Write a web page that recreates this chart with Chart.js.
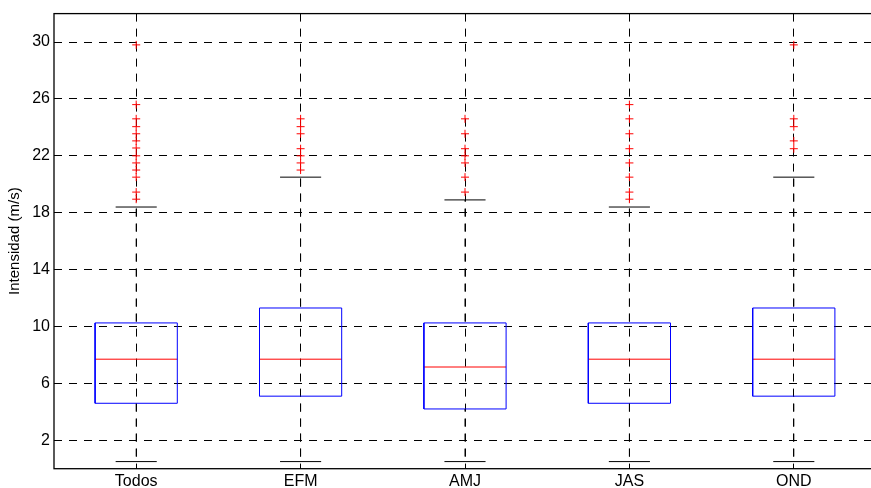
<!DOCTYPE html>
<html>
<head>
<meta charset="utf-8">
<script src="https://cdn.jsdelivr.net/npm/chart.js@4.4.1/dist/chart.umd.min.js"></script>
<style>
html,body{margin:0;padding:0;background:#fff;overflow:hidden;}
#wrap{width:881px;height:488px;position:relative;}
</style>
</head>
<body>
<div id="wrap"><canvas id="c"></canvas></div>
<script>
const categories = ['Todos', 'EFM', 'AMJ', 'JAS', 'OND'];
const q1 = [4.6, 5.1, 4.2, 4.6, 5.1];
const median = [7.7, 7.7, 7.15, 7.7, 7.7];
const q3 = [10.25, 11.3, 10.25, 10.25, 11.3];
const whiskerLow = [0.5, 0.5, 0.5, 0.5, 0.5];
const whiskerHigh = [18.4, 20.5, 18.9, 18.4, 20.5];
const outTodos = [29.8, 25.6, 24.6, 24.05, 23.55, 23.05, 22.55, 22.0, 21.5, 21.0, 20.5, 19.45, 18.95];
const outEFM = [24.6, 24.05, 23.55, 22.5, 22.0, 21.5, 21.0];
const outAMJ = [24.6, 23.55, 22.5, 22.0, 21.5, 20.5, 19.45];
const outJAS = [25.6, 24.6, 23.55, 22.5, 21.5, 20.5, 19.45, 18.95];
const outOND = [29.8, 24.6, 24.05, 23.05, 22.5];
const yTicks = [2, 6, 10, 14, 18, 22, 26, 30];

const outliers = [outTodos, outEFM, outAMJ, outJAS, outOND];
const BOX_HALF = 0.25, CAP_HALF = 0.125;
const DASH = [8, 7];
const FONT = "'Liberation Sans', Arial, Helvetica, sans-serif";

const boxPts = [], medPts = [], capPts = [], outPts = [];
const whiskerSegs = []; // each: [startValue, endValue, position]
categories.forEach((c, k) => {
  const i = k + 1;
  boxPts.push({x: i - BOX_HALF, y: q1[k]}, {x: i + BOX_HALF, y: q1[k]}, {x: i + BOX_HALF, y: q3[k]},
              {x: i - BOX_HALF, y: q3[k]}, {x: i - BOX_HALF, y: q1[k]}, {x: i, y: null});
  medPts.push({x: i - BOX_HALF, y: median[k]}, {x: i + BOX_HALF, y: median[k]}, {x: i, y: null});
  whiskerSegs.push([whiskerHigh[k], q3[k], i], [q1[k], whiskerLow[k], i]);
  capPts.push({x: i - CAP_HALF, y: whiskerHigh[k]}, {x: i + CAP_HALF, y: whiskerHigh[k]}, {x: i, y: null},
              {x: i - CAP_HALF, y: whiskerLow[k]}, {x: i + CAP_HALF, y: whiskerLow[k]}, {x: i, y: null});
  outliers[k].forEach(v => outPts.push({x: i, y: v}));
});

const lineDs = (data, color, extra) => Object.assign({
  type: 'scatter', data, showLine: true, spanGaps: false, borderColor: color,
  borderWidth: 1, pointRadius: 0, fill: false, tension: 0
}, extra || {});

// whisker dashes kept in phase with the vertical grid dashes (which start at the chart-area top)
const whiskerDatasets = whiskerSegs.map(([a, b, i]) => lineDs(
  [{x: i, y: a}, {x: i, y: b}], '#000', {
    borderDash: DASH,
    borderDashOffset: ctx => {
      const ch = ctx.chart;
      if (!ch.chartArea || !ch.scales.y) return 0;
      const period = DASH[0] + DASH[1];
      const d = ch.scales.y.getPixelForValue(a) - ch.chartArea.top;
      return ((d % period) + period) % period;
    }
  }));

const framePlugin = {
  id: 'frame',
  afterDraw(chart) {
    const a = chart.chartArea, ctx = chart.ctx;
    ctx.save();
    ctx.strokeStyle = '#000';
    ctx.lineWidth = 1.3;
    ctx.strokeRect(a.left, a.top, a.right - a.left, a.bottom - a.top);
    ctx.restore();
  }
};

new Chart(document.getElementById('c'), {
  type: 'scatter',
  data: {
    datasets: [
      ...whiskerDatasets,
      lineDs(capPts, '#000'),
      lineDs(boxPts, '#0000ff'),
      lineDs(medPts, '#ff0000'),
      {type: 'scatter', data: outPts, pointStyle: 'cross', pointRadius: 4, borderColor: '#ff0000',
       backgroundColor: '#ff0000', borderWidth: 1, showLine: false}
    ]
  },
  options: {
    responsive: true, maintainAspectRatio: false, animation: false,
    layout: {padding: {left: 0, right: 0, top: 13, bottom: 0}},
    plugins: {legend: {display: false}, tooltip: {enabled: false}},
    scales: {
      x: {
        type: 'linear', min: 0.5, max: 5.5,
        afterBuildTicks: s => { s.ticks = categories.map((c, k) => ({value: k + 1})); },
        afterFit: s => { s.height = 19.3; },
        ticks: {callback: v => categories[Math.round(v) - 1], color: '#000', padding: 3,
                font: {family: FONT, size: 16}, maxRotation: 0, autoSkip: false},
        grid: {color: '#000', lineWidth: 1, drawTicks: false},
        border: {display: false, dash: DASH}
      },
      y: {
        type: 'linear', min: 0, max: 32,
        afterBuildTicks: s => { s.ticks = yTicks.map(v => ({value: v})); },
        afterFit: s => { s.width = 54; },
        ticks: {color: '#000', padding: 4, font: {family: FONT, size: 16}},
        grid: {color: '#000', lineWidth: 1, drawTicks: false},
        border: {display: false, dash: DASH},
        title: {display: true, text: 'Intensidad (m/s)', color: '#000',
                font: {family: FONT, size: 15}, padding: {top: 6, bottom: 0}}
      }
    }
  },
  plugins: [framePlugin]
});
</script>
</body>
</html>
